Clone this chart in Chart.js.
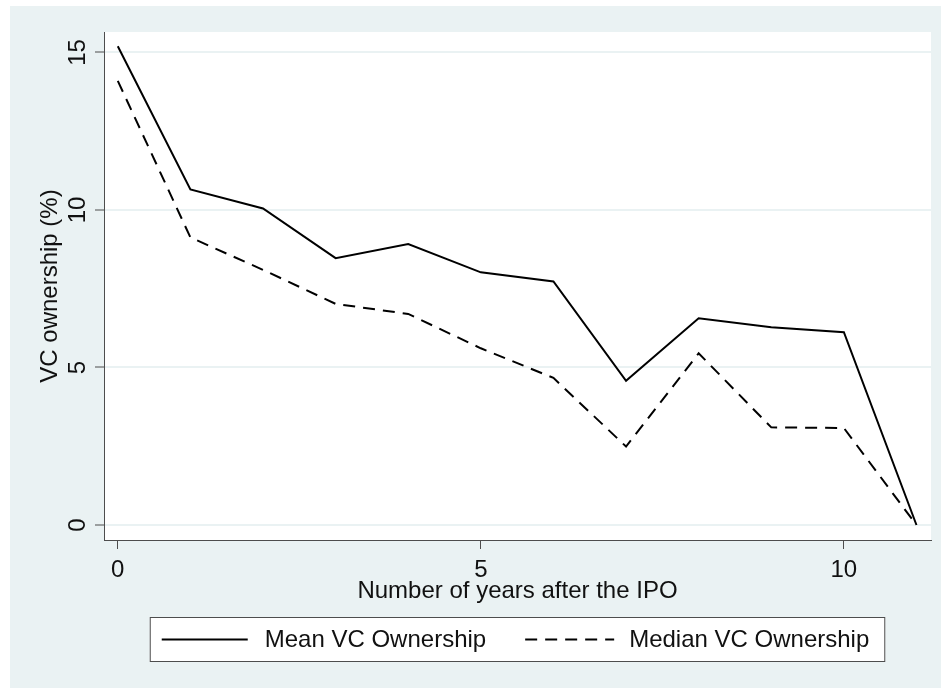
<!DOCTYPE html>
<html>
<head>
<meta charset="utf-8">
<title>VC ownership after the IPO</title>
<script src="https://cdn.jsdelivr.net/npm/chart.js@4.4.1/dist/chart.umd.min.js"></script>
<style>
  html, body { margin: 0; padding: 0; background: #fff; }
  canvas { display: block; }
</style>
</head>
<body>
<canvas id="vcChart" width="941" height="688"></canvas>
<script>
// data
const years = [0, 1, 2, 3, 4, 5, 6, 7, 8, 9, 10, 11];
const meanOwnership = [15.2, 10.65, 10.05, 8.47, 8.92, 8.02, 7.73, 4.58, 6.56, 6.28, 6.12, 0];
const medianOwnership = [14.1, 9.13, 8.1, 7.02, 6.7, 5.61, 4.67, 2.49, 5.45, 3.1, 3.08, 0];
const xTicks = [0, 5, 10];
const yTicks = [0, 5, 10, 15];

const FONT = "'Liberation Sans', Arial, sans-serif";
const TEXT = '#111';
const AXIS = '#4d4d4d';
const BG = '#eaf2f3';

// background panel + white plot region
const backdrop = {
  id: 'backdrop',
  beforeDraw(chart) {
    const {ctx, chartArea: a} = chart;
    ctx.save();
    ctx.fillStyle = '#fff';
    ctx.fillRect(0, 0, chart.width, chart.height);
    ctx.fillStyle = BG;
    ctx.fillRect(10, 6, chart.width - 10, chart.height - 6);
    ctx.fillStyle = '#fff';
    ctx.fillRect(a.left, a.top, a.right - a.left, a.bottom - a.top);
    ctx.restore();
  }
};

// vertical y tick labels, stata style
const yLabels = {
  id: 'yLabels',
  afterDraw(chart) {
    const {ctx} = chart;
    const y = chart.scales.y;
    ctx.save();
    ctx.fillStyle = TEXT;
    ctx.font = '24px ' + FONT;
    ctx.textAlign = 'center';
    ctx.textBaseline = 'alphabetic';
    yTicks.forEach(v => {
      ctx.save();
      ctx.translate(y.right - 19, y.getPixelForValue(v));
      ctx.rotate(-Math.PI / 2);
      ctx.fillText(String(v), 0, 0);
      ctx.restore();
    });
    ctx.restore();
  }
};

// boxed legend under the axis title
const boxLegend = {
  id: 'boxLegend',
  afterDraw(chart) {
    const {ctx, chartArea: a} = chart;
    const sets = chart.data.datasets;
    ctx.save();
    ctx.font = '24px ' + FONT;
    const lineLen = [86, 89];
    const textGap = [17, 15];
    const itemGap = 39;
    const padL = 12, padR = 16;
    const widths = sets.map((d, i) => lineLen[i] + textGap[i] + ctx.measureText(d.label).width);
    const total = padL + widths[0] + itemGap + widths[1] + padR;
    const left = (a.left + a.right) / 2 - total / 2;
    const top = 617, h = 45, mid = top + h / 2;

    ctx.fillStyle = '#fff';
    ctx.fillRect(left, top, total, h);
    ctx.strokeStyle = AXIS;
    ctx.lineWidth = 1;
    ctx.strokeRect(left + 0.5, top + 0.5, total - 1, h - 1);

    let x = left + padL;
    sets.forEach((d, i) => {
      ctx.beginPath();
      ctx.setLineDash(d.borderDash || []);
      ctx.strokeStyle = d.borderColor;
      ctx.lineWidth = d.borderWidth;
      ctx.moveTo(x, mid);
      ctx.lineTo(x + lineLen[i], mid);
      ctx.stroke();
      ctx.setLineDash([]);
      ctx.fillStyle = TEXT;
      ctx.textAlign = 'left';
      ctx.textBaseline = 'middle';
      ctx.fillText(d.label, x + lineLen[i] + textGap[i], mid + 1);
      x += widths[i] + itemGap;
    });
    ctx.restore();
  }
};

const ctx = document.getElementById('vcChart').getContext('2d');
new Chart(ctx, {
  type: 'line',
  data: {
    labels: years,
    datasets: [{
      label: 'Mean VC Ownership',
      data: years.map((yr, i) => ({x: yr, y: meanOwnership[i]})),
      borderColor: '#000',
      borderWidth: 2,
      pointRadius: 0,
      tension: 0,
      fill: false
    }, {
      label: 'Median VC Ownership',
      data: years.map((yr, i) => ({x: yr, y: medianOwnership[i]})),
      borderColor: '#000',
      borderWidth: 2,
      borderDash: [12, 8],
      pointRadius: 0,
      tension: 0,
      fill: false
    }]
  },
  options: {
    responsive: false,
    animation: false,
    devicePixelRatio: 1,
    layout: { padding: { top: 32, right: 10, bottom: 82, left: 0 } },
    plugins: {
      legend: { display: false },
      tooltip: { enabled: false }
    },
    scales: {
      x: {
        type: 'linear',
        min: -0.19,
        max: 11.2,
        afterBuildTicks: s => { s.ticks = xTicks.map(v => ({value: v})); },
        afterFit: s => { s.height = 66; },
        grid: { display: true, drawOnChartArea: false, drawTicks: true, tickLength: 9, tickColor: AXIS, tickWidth: 1 },
        border: { display: true, color: AXIS, width: 1 },
        ticks: { color: TEXT, font: { family: FONT, size: 24 }, padding: 7, maxRotation: 0 },
        title: { display: true, text: 'Number of years after the IPO', color: TEXT,
                 font: { family: FONT, size: 24 }, padding: { top: 0, bottom: 0 } }
      },
      y: {
        min: -0.476,
        max: 15.65,
        afterBuildTicks: s => { s.ticks = yTicks.map(v => ({value: v})); },
        afterFit: s => { s.width = 104; },
        grid: { display: true, drawOnChartArea: true, color: BG, lineWidth: 2, drawTicks: true, tickLength: 9, tickColor: AXIS, tickWidth: 1 },
        border: { display: true, color: AXIS, width: 1 },
        ticks: { display: false },
        title: { display: true, text: 'VC ownership (%)', color: TEXT,
                 font: { family: FONT, size: 24 }, padding: { top: 36, bottom: 0 } }
      }
    }
  },
  plugins: [backdrop, yLabels, boxLegend]
});
</script>
</body>
</html>
